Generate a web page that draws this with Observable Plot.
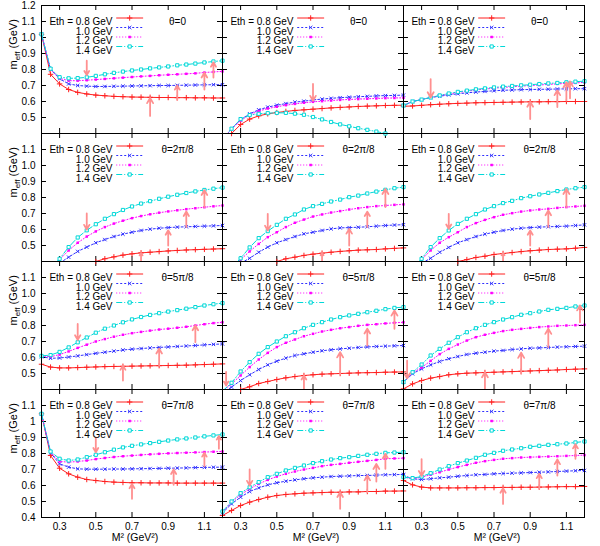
<!DOCTYPE html>
<html><head><meta charset="utf-8">
<script src="https://cdn.jsdelivr.net/npm/d3@7"></script>
<script src="https://cdn.jsdelivr.net/npm/@observablehq/plot@0.6"></script>
<style>body{margin:0;background:#fff}</style>
</head><body><div id="chart"></div>
<script>
// ---------- data ----------
const m2 = [0.2,0.25,0.3,0.35,0.4,0.45,0.5,0.55,0.6,0.65,0.7,0.75,0.8,0.85,0.9,0.95,1.0,1.05,1.1,1.15,1.2];
const rowKeys = ["θ=0","θ=2π/8","θ=5π/8","θ=7π/8"];
const colKeys = ["a","b","c"];
const ethLabels = ["Eth = 0.8 GeV","1.0 GeV","1.2 GeV","1.4 GeV"];
const yTickVals = [0.4,0.5,0.6,0.7,0.8,0.9,1.0,1.1,1.2];
const xTickVals = [0.3,0.5,0.7,0.9,1.1];
const xTickLabels = ["0.3","0.5","0.7","0.9","1.1"];
const yLabelsRow1 = ["1.2","1.1","1.0","0.9","0.8","0.7","0.6","0.5"];
const yLabelsRow23 = ["1.1","1.0","0.9","0.8","0.7","0.6","0.5"];
const yLabelsRow4 = ["1.1","1","0.9","0.8","0.7","0.6","0.5","0.4"];

// theta=0
const t0a_08 = [1.02,0.77,0.71,0.675,0.657,0.647,0.64,0.636,0.632,0.63,0.628,0.627,0.626,0.625,0.625,0.624,0.624,0.623,0.623,0.622,0.622];
const t0a_10 = [1.02,0.80,0.742,0.71,0.70,0.696,0.694,0.694,0.695,0.696,0.697,0.698,0.699,0.70,0.70,0.701,0.702,0.703,0.704,0.705,0.705];
const t0a_12 = [1.02,0.80,0.745,0.73,0.73,0.733,0.737,0.741,0.745,0.749,0.753,0.757,0.76,0.764,0.767,0.77,0.773,0.776,0.781,0.785,0.788];
const t0a_14 = [1.02,0.805,0.752,0.745,0.746,0.751,0.76,0.77,0.779,0.787,0.794,0.80,0.807,0.813,0.819,0.826,0.831,0.837,0.844,0.85,0.855];
const t0b_08 = [0.35,0.40,0.456,0.49,0.51,0.523,0.531,0.538,0.544,0.548,0.552,0.556,0.56,0.563,0.566,0.569,0.571,0.573,0.575,0.576,0.577];
const t0b_10 = [0.36,0.43,0.487,0.523,0.548,0.565,0.577,0.587,0.596,0.602,0.61,0.615,0.62,0.624,0.627,0.63,0.632,0.635,0.637,0.638,0.64];
const t0b_12 = [0.36,0.43,0.48,0.517,0.54,0.556,0.567,0.577,0.585,0.592,0.598,0.602,0.606,0.61,0.613,0.615,0.617,0.619,0.621,0.622,0.623];
const t0b_14 = [0.36,0.43,0.49,0.515,0.523,0.527,0.529,0.529,0.524,0.517,0.503,0.488,0.472,0.457,0.445,0.433,0.423,0.412,0.40,0.39,0.38];
const t0c_08 = [0.57,0.572,0.576,0.58,0.583,0.586,0.588,0.59,0.592,0.593,0.594,0.595,0.596,0.597,0.598,0.598,0.599,0.599,0.6,0.6,0.6];
const t0c_10 = [0.575,0.60,0.612,0.625,0.633,0.641,0.648,0.654,0.659,0.663,0.667,0.67,0.672,0.674,0.675,0.676,0.677,0.678,0.679,0.68,0.68];
const t0c_12 = [0.575,0.60,0.612,0.625,0.636,0.647,0.656,0.664,0.672,0.678,0.683,0.688,0.692,0.696,0.70,0.703,0.707,0.71,0.713,0.716,0.72];
const t0c_14 = [0.575,0.60,0.612,0.625,0.638,0.65,0.66,0.668,0.676,0.682,0.688,0.693,0.697,0.701,0.705,0.709,0.713,0.716,0.72,0.724,0.727];
// theta=2pi/8
const t2a_08 = [0.2,0.26,0.3,0.33,0.36,0.382,0.40,0.417,0.429,0.44,0.448,0.454,0.458,0.462,0.466,0.469,0.472,0.474,0.476,0.478,0.48];
const t2a_10 = [0.3,0.35,0.39,0.427,0.463,0.49,0.517,0.537,0.556,0.571,0.583,0.594,0.602,0.608,0.612,0.615,0.617,0.619,0.621,0.623,0.625];
const t2a_12 = [0.3,0.36,0.412,0.469,0.517,0.556,0.588,0.615,0.637,0.655,0.671,0.684,0.695,0.705,0.713,0.72,0.727,0.733,0.739,0.745,0.75];
const t2a_14 = [0.3,0.36,0.417,0.49,0.55,0.595,0.633,0.667,0.696,0.722,0.744,0.762,0.777,0.792,0.805,0.817,0.828,0.838,0.847,0.855,0.862];
const t2b_08 = [0.2,0.26,0.3,0.33,0.36,0.382,0.40,0.417,0.427,0.438,0.446,0.452,0.458,0.463,0.467,0.471,0.473,0.475,0.479,0.482,0.485];
const t2b_10 = [0.3,0.35,0.39,0.42,0.458,0.49,0.517,0.537,0.556,0.573,0.583,0.594,0.604,0.61,0.612,0.614,0.617,0.621,0.625,0.628,0.63];
const t2b_12 = [0.3,0.36,0.412,0.463,0.51,0.552,0.583,0.615,0.642,0.662,0.681,0.694,0.706,0.715,0.725,0.733,0.74,0.746,0.75,0.754,0.757];
const t2b_14 = [0.3,0.36,0.42,0.488,0.546,0.59,0.629,0.667,0.694,0.725,0.746,0.76,0.775,0.787,0.802,0.812,0.825,0.837,0.848,0.858,0.865];
const t2c_08 = [0.2,0.26,0.3,0.33,0.36,0.382,0.40,0.412,0.425,0.433,0.444,0.45,0.456,0.462,0.467,0.471,0.475,0.477,0.479,0.483,0.488];
const t2c_10 = [0.3,0.35,0.39,0.42,0.458,0.488,0.517,0.537,0.556,0.571,0.583,0.594,0.602,0.608,0.612,0.615,0.617,0.619,0.621,0.625,0.629];
const t2c_12 = [0.3,0.36,0.412,0.469,0.517,0.552,0.583,0.615,0.64,0.66,0.677,0.692,0.702,0.712,0.719,0.725,0.729,0.735,0.74,0.744,0.748];
const t2c_14 = [0.3,0.36,0.417,0.49,0.546,0.594,0.635,0.667,0.696,0.725,0.746,0.765,0.779,0.796,0.808,0.819,0.829,0.84,0.85,0.858,0.865];
// theta=5pi/8
const t5a_08 = [0.558,0.54,0.535,0.535,0.537,0.539,0.541,0.543,0.544,0.545,0.546,0.547,0.548,0.549,0.55,0.551,0.552,0.554,0.556,0.558,0.56];
const t5a_10 = [0.605,0.595,0.597,0.603,0.61,0.618,0.626,0.633,0.64,0.647,0.652,0.656,0.66,0.663,0.666,0.669,0.672,0.675,0.679,0.682,0.685];
const t5a_12 = [0.61,0.605,0.618,0.638,0.66,0.68,0.70,0.715,0.73,0.742,0.752,0.76,0.768,0.775,0.78,0.786,0.792,0.80,0.808,0.815,0.82];
const t5a_14 = [0.61,0.615,0.635,0.663,0.695,0.725,0.755,0.78,0.80,0.82,0.838,0.853,0.866,0.877,0.887,0.896,0.905,0.915,0.925,0.933,0.94];
const t5b_08 = [0.3,0.35,0.40,0.417,0.4375,0.45,0.4625,0.473,0.481,0.4875,0.492,0.496,0.498,0.50,0.502,0.504,0.505,0.506,0.508,0.509,0.51];
const t5b_10 = [0.38,0.415,0.456,0.492,0.525,0.554,0.577,0.596,0.6125,0.623,0.633,0.642,0.648,0.654,0.658,0.6625,0.666,0.669,0.671,0.673,0.675];
const t5b_12 = [0.39,0.435,0.4875,0.54,0.5875,0.629,0.665,0.692,0.7125,0.733,0.748,0.7625,0.773,0.783,0.79,0.798,0.804,0.808,0.813,0.817,0.82];
const t5b_14 = [0.39,0.442,0.5125,0.571,0.623,0.665,0.70,0.733,0.758,0.783,0.804,0.821,0.8375,0.852,0.863,0.873,0.883,0.892,0.902,0.91,0.915];
const t5c_08 = [0.404,0.435,0.456,0.471,0.481,0.492,0.498,0.502,0.504,0.506,0.508,0.51,0.512,0.514,0.516,0.518,0.52,0.522,0.525,0.527,0.529];
const t5c_10 = [0.446,0.498,0.529,0.554,0.575,0.592,0.606,0.619,0.627,0.633,0.64,0.644,0.65,0.654,0.658,0.66,0.6625,0.665,0.667,0.669,0.671];
const t5c_12 = [0.446,0.504,0.5375,0.579,0.621,0.654,0.681,0.706,0.727,0.742,0.754,0.765,0.773,0.779,0.785,0.79,0.794,0.798,0.80,0.802,0.804];
const t5c_14 = [0.446,0.508,0.556,0.6125,0.654,0.692,0.727,0.758,0.783,0.804,0.821,0.8375,0.852,0.867,0.877,0.8875,0.898,0.904,0.91,0.919,0.925];
// theta=7pi/8
const t7a_08 = [1.048,0.7875,0.708,0.673,0.652,0.6375,0.631,0.625,0.621,0.619,0.617,0.617,0.616,0.616,0.616,0.615,0.615,0.615,0.615,0.615,0.615];
const t7a_10 = [1.048,0.804,0.735,0.715,0.704,0.702,0.702,0.702,0.703,0.703,0.704,0.705,0.706,0.707,0.708,0.709,0.71,0.712,0.713,0.714,0.715];
const t7a_12 = [1.048,0.808,0.75,0.746,0.75,0.756,0.765,0.772,0.778,0.783,0.787,0.791,0.795,0.798,0.801,0.803,0.805,0.807,0.809,0.811,0.8125];
const t7a_14 = [1.048,0.8125,0.767,0.756,0.7625,0.777,0.792,0.808,0.824,0.838,0.848,0.857,0.865,0.873,0.881,0.888,0.894,0.9,0.907,0.913,0.919];
const t7b_08 = [0.4125,0.444,0.475,0.496,0.5125,0.527,0.5375,0.544,0.548,0.552,0.554,0.556,0.558,0.558,0.56,0.56,0.5625,0.5625,0.565,0.565,0.566];
const t7b_10 = [0.429,0.485,0.527,0.5625,0.585,0.604,0.617,0.627,0.635,0.642,0.648,0.652,0.656,0.658,0.66,0.6625,0.6625,0.665,0.667,0.668,0.669];
const t7b_12 = [0.433,0.496,0.542,0.579,0.61,0.635,0.656,0.673,0.6875,0.70,0.71,0.721,0.729,0.735,0.742,0.748,0.754,0.76,0.767,0.769,0.771];
const t7b_14 = [0.4375,0.50,0.552,0.589,0.621,0.652,0.673,0.694,0.71,0.725,0.74,0.752,0.7625,0.771,0.777,0.785,0.792,0.798,0.804,0.806,0.808];
const t7c_08 = [0.631,0.604,0.59,0.585,0.585,0.585,0.585,0.586,0.586,0.587,0.587,0.588,0.588,0.589,0.589,0.59,0.591,0.592,0.593,0.593,0.594];
const t7c_10 = [0.6625,0.642,0.6375,0.642,0.648,0.652,0.658,0.6625,0.667,0.669,0.673,0.675,0.677,0.679,0.681,0.683,0.685,0.6875,0.69,0.692,0.694];
const t7c_12 = [0.652,0.642,0.652,0.667,0.683,0.70,0.715,0.729,0.742,0.752,0.76,0.767,0.771,0.775,0.777,0.779,0.781,0.783,0.785,0.7875,0.79];
const t7c_14 = [0.652,0.646,0.656,0.677,0.70,0.721,0.74,0.756,0.773,0.792,0.804,0.817,0.825,0.833,0.842,0.848,0.854,0.858,0.8625,0.869,0.875];

// arrows: [M2, from, to]
const t0a_arr = [[0.45,0.855,0.765],[0.8,0.51,0.622],[0.95,0.61,0.70],[1.1,0.675,0.78],[1.15,0.75,0.845]];
const t0b_arr = [[0.7,0.71,0.605]];
const t0c_arr = [[0.35,0.74,0.625],[0.9,0.49,0.598],[1.05,0.565,0.67],[1.1,0.606,0.72],[1.12,0.62,0.725]];
const t2a_arr = [[0.45,0.70,0.60],[0.75,0.40,0.454],[0.9,0.50,0.595],[1.0,0.615,0.713],[1.1,0.74,0.846]];
const t2b_arr = [[0.45,0.698,0.594],[0.75,0.40,0.455],[0.9,0.50,0.604],[1.0,0.615,0.712],[1.1,0.74,0.854]];
const t2c_arr = [[0.45,0.698,0.604],[0.75,0.40,0.455],[0.9,0.50,0.594],[1.0,0.615,0.719],[1.1,0.74,0.854]];
const t5a_arr = [[0.4,0.81,0.71],[0.65,0.456,0.55],[0.85,0.55,0.655],[1.05,0.696,0.80]];
const t5b_arr = [[0.22,0.51,0.425],[0.65,0.40,0.4875],[0.85,0.498,0.633],[1.0,0.675,0.78],[1.15,0.779,0.894]];
const t5c_arr = [[0.22,0.58,0.47],[0.65,0.40,0.508],[0.85,0.498,0.63],[1.0,0.665,0.78],[1.175,0.82,0.925]];
const t7a_arr = [[0.5,0.90,0.808],[0.7,0.517,0.61],[0.93,0.604,0.70],[1.1,0.72,0.805],[1.18,0.83,0.91]];
const t7b_arr = [[0.35,0.70,0.60],[0.85,0.454,0.558],[1.0,0.558,0.6625],[1.05,0.625,0.735],[1.1,0.704,0.798]];
const t7c_arr = [[0.3,0.765,0.66],[0.75,0.485,0.583],[0.95,0.579,0.673],[1.05,0.6625,0.7625],[1.15,0.767,0.858]];

// ---------- assembly ----------
const panels = [
  [rowKeys[0],"a",[t0a_08,t0a_10,t0a_12,t0a_14],t0a_arr],
  [rowKeys[0],"b",[t0b_08,t0b_10,t0b_12,t0b_14],t0b_arr],
  [rowKeys[0],"c",[t0c_08,t0c_10,t0c_12,t0c_14],t0c_arr],
  [rowKeys[1],"a",[t2a_08,t2a_10,t2a_12,t2a_14],t2a_arr],
  [rowKeys[1],"b",[t2b_08,t2b_10,t2b_12,t2b_14],t2b_arr],
  [rowKeys[1],"c",[t2c_08,t2c_10,t2c_12,t2c_14],t2c_arr],
  [rowKeys[2],"a",[t5a_08,t5a_10,t5a_12,t5a_14],t5a_arr],
  [rowKeys[2],"b",[t5b_08,t5b_10,t5b_12,t5b_14],t5b_arr],
  [rowKeys[2],"c",[t5c_08,t5c_10,t5c_12,t5c_14],t5c_arr],
  [rowKeys[3],"a",[t7a_08,t7a_10,t7a_12,t7a_14],t7a_arr],
  [rowKeys[3],"b",[t7b_08,t7b_10,t7b_12,t7b_14],t7b_arr],
  [rowKeys[3],"c",[t7c_08,t7c_10,t7c_12,t7c_14],t7c_arr]
];
const points = [], arrows = [], panelKeys = [];
for (const [row, col, series, arr] of panels) {
  panelKeys.push({row, col});
  series.forEach((s, i) => s.forEach((v, j) => points.push({row, col, s: i, x: m2[j], y: v})));
  arr.forEach(([x, a, b]) => arrows.push({row, col, x, from: a, to: b}));
}

// ---------- layout ----------
const W = 600, H = 546, ML = 40, MR = 15, MT = 5, MB = 29;
const PW = (W - ML - MR) / 3, PH = (H - MT - MB) / 4;
const px2x = p => 0.2 + p / PW * 1.0;
const py2y = p => 1.2 - p / PH * 0.8;
const tx = 5 / PW, ty = 5 / PH * 0.8;

const colors = ["#ff2020", "#3030ff", "#ff00ff", "#00d8d8"];
const dashes = [null, "2,2", "1,2", "6,2,1,2"];
const symbols = ["plus", "times", "square", "square"];
const dotStyle = i => i === 0 ? {stroke: colors[0], r: 1.9, strokeWidth: 1}
  : i === 1 ? {stroke: colors[1], r: 1.7, strokeWidth: 1}
  : i === 2 ? {fill: colors[2], r: 1.4}
  : {stroke: colors[3], fill: "white", r: 1.8, strokeWidth: 1};
const legRowY = [12.5, 22, 31.5, 41];

const marks = [];
// ticks
marks.push(Plot.ruleY(yTickVals, {y: d => d, x1: 0.2, x2: 0.2 + tx, stroke: "black"}));
marks.push(Plot.ruleY(yTickVals, {y: d => d, x1: 1.2 - tx, x2: 1.2, stroke: "black"}));
marks.push(Plot.ruleX(xTickVals, {x: d => d, y1: 0.4, y2: 0.4 + ty, stroke: "black"}));
marks.push(Plot.ruleX(xTickVals, {x: d => d, y1: 1.2 - ty, y2: 1.2, stroke: "black"}));
// series
for (let i = 0; i < 4; i++) {
  const d = points.filter(p => p.s === i);
  marks.push(Plot.line(d, {x: "x", y: "y", fx: "col", fy: "row", stroke: colors[i], strokeWidth: 1,
    strokeDasharray: dashes[i], clip: true}));
  marks.push(Plot.dot(d, {x: "x", y: "y", fx: "col", fy: "row", symbol: symbols[i], ...dotStyle(i),
    filter: p => p.y >= 0.4 && p.y <= 1.2}));
}
// arrows
marks.push(Plot.arrow(arrows, {x: "x", y1: "from", y2: "to", fx: "col", fy: "row",
  stroke: "#ff9090", strokeWidth: 1.8, headLength: 5, clip: true}));
// legends
for (let i = 0; i < 4; i++) {
  marks.push(Plot.text(panelKeys, {fx: "col", fy: "row", frameAnchor: "top-left", dx: 71, dy: legRowY[i],
    text: () => ethLabels[i], textAnchor: "end", fontSize: 10}));
  marks.push(Plot.link(panelKeys, {fx: "col", fy: "row", x1: () => px2x(75), x2: () => px2x(102),
    y1: () => py2y(legRowY[i]), y2: () => py2y(legRowY[i]), stroke: colors[i], strokeDasharray: dashes[i]}));
  marks.push(Plot.dot(panelKeys, {fx: "col", fy: "row", x: () => px2x(88.5), y: () => py2y(legRowY[i]),
    symbol: symbols[i], ...dotStyle(i)}));
}
marks.push(Plot.text(panelKeys, {fx: "col", fy: "row", frameAnchor: "top-left", dx: 136, dy: legRowY[0],
  text: "row", textAnchor: "middle", fontSize: 10}));
// frame
marks.push(Plot.frame({stroke: "black"}));
// y tick labels (left column)
const yLab = [];
rowKeys.forEach((row, r) => {
  const labs = r === 0 ? yLabelsRow1 : r === 3 ? yLabelsRow4 : yLabelsRow23;
  labs.forEach(t => yLab.push({row, col: "a", v: +t, t}));
});
marks.push(Plot.text(yLab, {fx: "col", fy: "row", x: () => 0.2, y: "v", text: "t", dx: -6, textAnchor: "end", fontSize: 10}));
// x tick labels (bottom row)
const xLab = [];
colKeys.forEach(col => xTickVals.forEach((v, k) => xLab.push({row: rowKeys[3], col, v, t: xTickLabels[k]})));
marks.push(Plot.text(xLab, {fx: "col", fy: "row", x: "v", y: () => 0.4, text: "t", dy: 9, fontSize: 10}));
// axis titles
marks.push(Plot.text(rowKeys.map(row => ({row, col: "a"})), {fx: "col", fy: "row", frameAnchor: "left", dx: -28,
  rotate: -90, text: () => "meff (GeV)", fontSize: 11}));
marks.push(Plot.text(colKeys.map(col => ({row: rowKeys[3], col})), {fx: "col", fy: "row", frameAnchor: "bottom", dx: 3, dy: 23.5,
  text: () => "M² (GeV²)", fontSize: 10.5}));

const chart = Plot.plot({
  width: W, height: H, marginLeft: ML, marginRight: MR, marginTop: MT, marginBottom: MB,
  style: {fontFamily: "'Liberation Sans', Arial, sans-serif", fontSize: "10px", background: "white", overflow: "visible"},
  fx: {domain: colKeys, padding: 0, axis: null},
  fy: {domain: rowKeys, padding: 0, axis: null},
  x: {domain: [0.2, 1.2], axis: null},
  y: {domain: [0.4, 1.2], axis: null},
  marks
});
// subscript for m_eff
d3.select(chart).selectAll("text").filter(function() { return this.textContent === "meff (GeV)"; })
  .each(function() {
    const t = d3.select(this); t.text(null);
    t.append("tspan").text("m");
    t.append("tspan").attr("dy", 3).attr("font-size", 8).text("eff");
    t.append("tspan").attr("dy", -3).text(" (GeV)");
  });
document.getElementById("chart").appendChild(chart);
</script>
</body></html>
